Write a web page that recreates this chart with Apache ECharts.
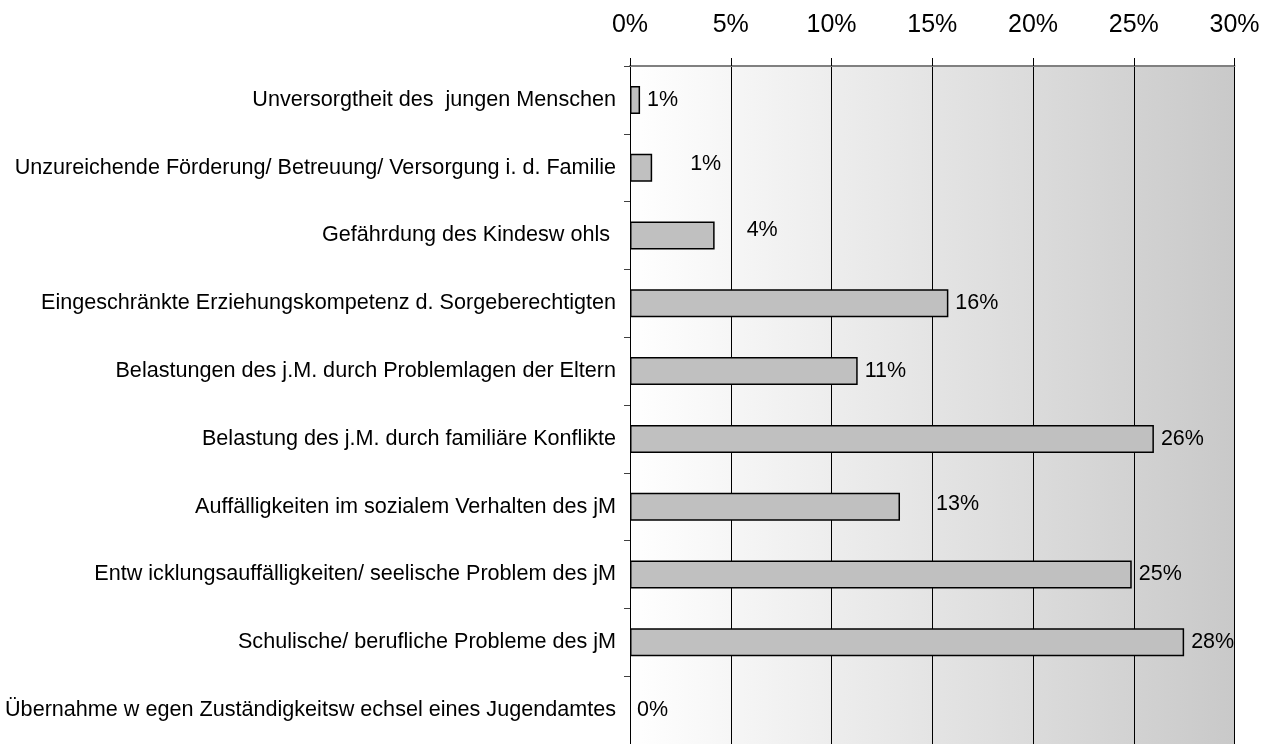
<!DOCTYPE html>
<html>
<head>
<meta charset="utf-8">
<script src="https://cdn.jsdelivr.net/npm/echarts@6/dist/echarts.min.js"></script>
<style>
  html, body { margin: 0; padding: 0; background: #ffffff; }
  #chart { width: 1278px; height: 744px; }
</style>
</head>
<body>
<div id="chart"></div>
<script>
// Gründe für die Hilfegewährung (Anteil in %)
const categories = [
  'Unversorgtheit des  jungen Menschen',
  'Unzureichende Förderung/ Betreuung/ Versorgung i. d. Familie',
  'Gefährdung des Kindesw ohls ',
  'Eingeschränkte Erziehungskompetenz d. Sorgeberechtigten',
  'Belastungen des j.M. durch Problemlagen der Eltern',
  'Belastung des j.M. durch familiäre Konflikte',
  'Auffälligkeiten im sozialem Verhalten des jM',
  'Entw icklungsauffälligkeiten/ seelische Problem des jM',
  'Schulische/ berufliche Probleme des jM',
  'Übernahme w egen Zuständigkeitsw echsel eines Jugendamtes'
];
const shares = [0.5, 1.1, 4.2, 15.8, 11.3, 26.0, 13.4, 24.9, 27.5, 0];

const axisMax = 30;
const axisStep = 5;

// a few value labels sit further right of their bars
const labelNudge = { 1: [31, -4], 2: [25, -5], 6: [29, -3] };

const FONT = '"Liberation Sans", Arial, sans-serif';

const barData = shares.map((v, i) => {
  const item = { value: v };
  if (labelNudge[i]) item.label = { offset: labelNudge[i] };
  if (v === 0) item.itemStyle = { borderWidth: 0 };
  return item;
});

const chart = echarts.init(document.getElementById('chart'), null, { renderer: 'canvas' });

chart.setOption({
  animation: false,
  backgroundColor: '#ffffff',
  grid: {
    left: 630,
    right: 43.5,
    top: 66,
    bottom: -6,
    show: true,
    borderWidth: 0,
    backgroundColor: new echarts.graphic.LinearGradient(0, 0, 1, 0, [
      { offset: 0, color: '#ffffff' },
      { offset: 1, color: '#c9c9c9' }
    ])
  },
  xAxis: {
    type: 'value',
    position: 'top',
    min: 0,
    max: axisMax,
    interval: axisStep,
    axisLine: { show: true, lineStyle: { color: '#808080', width: 2 } },
    axisTick: { show: true, length: 8, lineStyle: { color: '#000000', width: 1 } },
    axisLabel: {
      formatter: v => v + '%',
      fontFamily: FONT,
      fontSize: 25,
      color: '#000000',
      margin: 28
    },
    splitLine: { show: true, lineStyle: { color: '#000000', width: 1 } }
  },
  yAxis: {
    type: 'category',
    inverse: true,
    data: categories,
    axisLine: { show: true, lineStyle: { color: '#000000', width: 1 } },
    axisTick: { show: true, length: 6, lineStyle: { color: '#404040', width: 1 } },
    axisLabel: {
      fontFamily: FONT,
      fontSize: 21.6,
      color: '#000000',
      margin: 14
    },
    splitLine: { show: false }
  },
  series: [{
    type: 'bar',
    data: barData,
    barWidth: 28,
    itemStyle: { color: '#c0c0c0', borderColor: '#000000', borderWidth: 1.5 },
    label: {
      show: true,
      position: 'right',
      distance: 7,
      fontFamily: FONT,
      fontSize: 21.5,
      color: '#000000',
      formatter: p => Math.round(p.value) + '%'
    }
  }]
});
</script>
</body>
</html>
